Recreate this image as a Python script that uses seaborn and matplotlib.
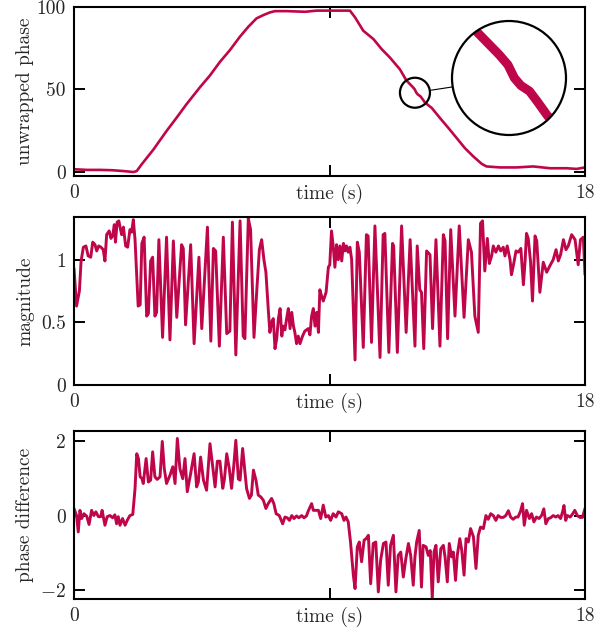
import matplotlib
matplotlib.use('Agg')
import matplotlib.pyplot as plt
import seaborn as sns
from matplotlib.patches import Circle, Ellipse, ConnectionPatch

# data (time in s)
phase_t = [0, 0.45, 0.92, 1.35, 1.74, 2.09, 2.21, 2.38, 2.80, 3.26, 3.62, 3.97, 4.44, 4.79,
           5.14, 5.49, 5.84, 6.14, 6.43, 6.67, 6.90, 7.08, 7.49, 8.14, 8.55, 9.14, 9.72, 9.90,
           10.19, 10.55, 10.84, 11.13, 11.48, 11.71, 11.92, 12.00, 12.06, 12.12, 12.20, 12.27,
           12.37, 12.60, 12.89, 13.19, 13.48, 13.77, 14.07, 14.36, 14.53, 15.01, 15.59, 16.18,
           16.77, 17.35, 17.71, 18.0]
phase_v = [1.6, 1.2, 1.2, 1.0, 0.5, -0.1, 0.5, 4.5, 13.6, 24.8, 33.0, 41.2, 51.4, 58.5,
           66.7, 73.8, 81.9, 88.0, 93.1, 95.1, 96.7, 97.5, 97.5, 97.1, 97.8, 97.8, 97.8, 93.7,
           85.6, 80.5, 74.4, 69.3, 62.2, 55.4, 51.7, 50.1, 48.0, 46.8, 45.9, 44.3,
           41.9, 38.8, 32.7, 26.6, 20.5, 14.4, 9.3, 4.9, 3.3, 2.7, 2.7, 3.3,
           2.2, 2.2, 1.8, 2.7]

mag_t = [0.00, 0.09, 0.19, 0.25, 0.33, 0.42, 0.50, 0.59, 0.66, 0.74, 0.80, 0.87, 0.95, 1.03,
         1.09, 1.15, 1.24, 1.30, 1.36, 1.42, 1.46, 1.52, 1.58, 1.64, 1.68, 1.74, 1.82, 1.89,
         1.97, 2.03, 2.09, 2.15, 2.26, 2.33, 2.39, 2.47, 2.56, 2.62, 2.70, 2.77, 2.85, 2.91,
         2.99, 3.12, 3.26, 3.38, 3.50, 3.62, 3.79, 3.85, 3.93, 4.11, 4.23, 4.40, 4.50, 4.70,
         4.82, 4.91, 4.99, 5.12, 5.26, 5.38, 5.49, 5.58, 5.70,
         5.85, 5.96, 6.02, 6.14, 6.22, 6.34, 6.44, 6.53, 6.61, 6.69, 6.76, 6.85, 6.90, 6.96,
         7.02, 7.08, 7.14, 7.20, 7.26, 7.32, 7.37, 7.43, 7.49, 7.55, 7.61, 7.67, 7.73, 7.78,
         7.84, 7.90, 7.96, 8.05, 8.13, 8.25, 8.31, 8.37, 8.43, 8.49, 8.55, 8.61, 8.66, 8.72,
         8.78, 8.88, 8.96, 9.01, 9.07, 9.13, 9.19, 9.25, 9.31, 9.37, 9.43, 9.49, 9.55, 9.60,
         9.66, 9.72, 9.78, 9.90, 9.98, 10.05, 10.19, 10.30, 10.36, 10.48, 10.60, 10.78, 10.89,
         10.95, 11.09, 11.22, 11.26, 11.39, 11.54, 11.70,
         11.84, 12.01, 12.09, 12.18, 12.24, 12.32, 12.42, 12.54, 12.63, 12.75, 12.89, 13.01,
         13.07, 13.16, 13.27, 13.42, 13.57, 13.74, 13.89, 14.00, 14.12, 14.24, 14.32, 14.39,
         14.47, 14.56, 14.63, 14.71, 14.77, 14.86, 14.95, 15.03, 15.12, 15.18, 15.26, 15.36,
         15.41, 15.49, 15.57, 15.65, 15.74, 15.83, 15.89, 15.94, 16.00, 16.08, 16.15, 16.24,
         16.30, 16.41, 16.53, 16.65, 16.76, 16.88, 16.98, 17.06, 17.14, 17.24, 17.33, 17.41,
         17.53, 17.65, 17.76, 17.84, 17.94, 18.00]
mag_v = [0.93, 0.63, 0.75, 0.99, 1.10, 1.11, 1.03, 1.02, 1.14, 1.12, 1.07, 1.11, 1.10, 1.08,
         0.99, 1.20, 1.23, 1.17, 1.19, 1.28, 1.14, 1.30, 1.31, 1.24, 1.20, 1.26, 1.11, 1.10,
         1.24, 1.22, 1.32, 1.16, 0.63, 0.64, 1.13, 1.18, 0.55, 0.57, 0.99, 1.02, 0.55, 0.58,
         1.16, 0.38, 1.18, 0.36, 1.15, 0.54, 1.12, 1.09, 0.48, 1.12, 0.33, 1.02, 0.45, 1.26,
         0.35, 1.09, 1.07, 0.31, 1.18, 0.41, 0.43, 1.30, 0.24,
         1.31, 0.39, 0.37, 1.33, 1.24, 0.38, 0.76, 1.08, 1.16, 1.00, 0.90, 0.58, 0.42, 0.50,
         0.53, 0.29, 0.37, 0.53, 0.61, 0.39, 0.47, 0.44, 0.53, 0.61, 0.45, 0.58, 0.47, 0.42,
         0.33, 0.39, 0.33, 0.39, 0.43, 0.45, 0.40, 0.55, 0.61, 0.47, 0.58, 0.42, 0.76, 0.71,
         0.67, 0.74, 0.94, 0.96, 1.23, 1.11, 0.94, 1.12, 1.00, 1.11, 0.99, 1.13, 1.07, 1.11,
         1.06, 1.10, 1.00, 0.20, 1.14, 1.06, 0.30, 1.20, 1.19, 0.34, 1.27, 0.22, 1.20,
         1.21, 0.26, 1.13, 1.11, 0.26, 1.27, 0.42,
         1.16, 0.31, 1.11, 0.76, 0.74, 0.29, 1.07, 1.04, 0.45, 1.16, 0.31, 1.20,
         1.15, 0.37, 1.24, 0.55, 1.27, 0.54, 1.16, 1.06, 0.55, 0.42, 1.29, 1.31,
         0.91, 1.17, 0.97, 1.03, 1.11, 1.06, 1.11, 1.07, 1.10, 1.03, 1.11, 1.00,
         0.88, 0.97, 1.07, 1.06, 1.09, 0.80, 0.99, 1.21, 1.17, 0.99, 0.67, 1.19,
         1.15, 0.74, 0.98, 0.90, 0.95, 1.00, 1.08, 0.99, 1.04, 1.16, 1.08, 1.11,
         1.20, 1.16, 0.96, 1.16, 1.18, 0.88]

diff_t = [0.00, 0.09, 0.15, 0.21, 0.27, 0.35, 0.45, 0.53, 0.62, 0.70, 0.77, 0.86, 0.94, 0.99,
          1.09, 1.17, 1.27, 1.36, 1.44, 1.50, 1.56, 1.62, 1.71, 1.80, 1.88, 1.97, 2.07, 2.15,
          2.21, 2.27, 2.33, 2.39, 2.44, 2.54, 2.62, 2.70, 2.77, 2.85, 2.93, 3.03, 3.11, 3.18,
          3.26, 3.38, 3.48, 3.56, 3.64, 3.73, 3.83, 3.91, 3.99, 4.11, 4.23, 4.32, 4.38, 4.46,
          4.56, 4.67, 4.79, 4.88, 4.97, 5.05, 5.14, 5.24, 5.30, 5.38, 5.47, 5.55, 5.63, 5.70,
          5.79, 5.85, 5.94, 6.02, 6.08, 6.18, 6.25, 6.32, 6.41, 6.49, 6.58, 6.67, 6.76, 6.84,
          6.96, 7.04, 7.12, 7.23, 7.35, 7.43, 7.51, 7.59, 7.67, 7.75, 7.84, 7.92, 8.02, 8.10,
          8.19, 8.25, 8.37, 8.43, 8.52, 8.61, 8.69, 8.78, 8.87, 8.96, 9.04, 9.13, 9.23, 9.31,
          9.43, 9.51, 9.58, 9.66, 9.74, 9.84, 9.90, 9.98, 10.05, 10.13, 10.22, 10.29, 10.37,
          10.45, 10.54, 10.63, 10.72, 10.80, 10.90, 10.99, 11.07, 11.15, 11.25, 11.34, 11.42,
          11.51, 11.60, 11.69, 11.78, 11.86, 11.95, 12.01, 12.07, 12.16, 12.24, 12.30, 12.40,
          12.48, 12.55, 12.62, 12.68, 12.75, 12.83, 12.92, 13.01, 13.07, 13.15, 13.22, 13.30,
          13.36, 13.44, 13.50, 13.59, 13.66, 13.74, 13.81, 13.89, 13.97, 14.07, 14.16, 14.24,
          14.32, 14.42, 14.51, 14.59, 14.68, 14.77, 14.86, 14.94, 15.03, 15.12, 15.21, 15.30,
          15.38, 15.47, 15.56, 15.64, 15.73, 15.80, 15.86, 15.94, 16.04, 16.12, 16.20, 16.29,
          16.38, 16.47, 16.55, 16.62, 16.71, 16.79, 16.88, 16.97, 17.05, 17.14, 17.21, 17.26,
          17.32, 17.38, 17.48, 17.57, 17.64, 17.73, 17.82, 17.91, 18.00]
diff_v = [0.19, 0.00, -0.44, 0.14, -0.08, 0.05, -0.02, -0.24, 0.14, 0.00, 0.10, -0.03, -0.03, 0.14,
          -0.26, -0.03, 0.00, -0.06, 0.02, -0.22, -0.03, -0.26, -0.08, -0.26, -0.12, 0.00, 0.03, 0.72,
          1.66, 1.53, 1.04, 1.00, 0.86, 1.53, 0.90, 0.95, 1.71, 1.04, 0.97, 1.04, 1.99, 1.26,
          0.86, 1.08, 1.31, 0.86, 2.07, 1.26, 0.99, 1.53, 0.64, 1.13, 1.66, 0.77, 0.90, 1.57,
          0.95, 0.68, 1.93, 1.35, 0.77, 1.46, 1.46, 0.73, 0.98, 1.66, 1.26, 0.73, 1.35, 2.02,
          0.98, 0.95, 1.80, 1.17, 0.72, 0.46, 0.55, 1.22, 0.95, 0.55, 0.50, 0.41, 0.19, 0.32,
          0.46, 0.32, 0.05, 0.00, -0.22, -0.04, -0.06, -0.13, 0.00, -0.08, -0.01, -0.06, 0.00, -0.06,
          -0.01, 0.12, 0.32, 0.14, 0.14, 0.14, -0.08, 0.28, -0.04, 0.00, -0.13, 0.05, -0.04, 0.10,
          0.05, -0.13, -0.04, -0.17, -0.71, -1.60, -1.96, -0.84, -0.71, -1.24, -0.66, -0.62, -0.53,
          -1.83, -0.75, -0.71, -2.05, -1.20, -0.75, -0.71, -1.87, -0.80, -0.53, -2.05, -1.07,
          -0.98, -1.65, -1.15, -0.75, -1.07, -1.87, -1.11, -0.71, -0.40, -1.92, -0.80, -0.84,
          -1.07, -0.94, -2.23, -0.98, -0.80, -1.78, -0.89, -0.80, -1.11, -1.78, -0.75, -1.11,
          -0.98, -1.74, -1.07, -0.62, -0.94, -1.60, -0.62, -0.71, -0.35, -0.57, -1.42, -0.53,
          -0.31, -0.35, 0.00, -0.10, 0.05, 0.00, -0.13, 0.00, -0.05, -0.05, 0.00, 0.13,
          -0.04, -0.10, -0.04, -0.04, 0.12, 0.32, -0.26, 0.14, -0.08, 0.05, -0.17, -0.04,
          -0.08, 0.00, 0.18, -0.22, -0.08, -0.06, 0.00, -0.04, 0.00, -0.08, 0.10, 0.27,
          -0.13, 0.00, -0.04, 0.05, 0.14, 0.00, -0.05, -0.05, 0.19]

x_ticks = [0, 9, 18]
x_ticklabels = ['0', 'time (s)', '18']
phase_ticks, phase_ticklabels = [0, 50, 100], ['0', '50', '100']
mag_ticks, mag_ticklabels = [0, 0.5, 1], ['0', '0.5', '1']
diff_ticks, diff_ticklabels = [-2, 0, 2], ['$-2$', '0', '2']

# zoomed spot on the unwrapped phase curve
zoom_center = (12.01, 48.0)

sns.set_style('ticks')
plt.rcParams['font.family'] = ['cmr10', 'DejaVu Serif']
plt.rcParams['mathtext.fontset'] = 'cm'
plt.rcParams['axes.unicode_minus'] = False
plt.rcParams['font.size'] = 14

red = '#C0064A'

fig = plt.figure(figsize=(6.1, 6.32), dpi=100)
W, H = 610, 632
def px_axes(x0, y0, x1, y1):
    return fig.add_axes([x0 / W, 1 - y1 / H, (x1 - x0) / W, (y1 - y0) / H])

ax1 = px_axes(74, 7, 585, 176)
ax2 = px_axes(74, 217, 585, 385)
ax3 = px_axes(74, 431, 585, 599)

sns.lineplot(x=phase_t, y=phase_v, ax=ax1, color=red, linewidth=1.9)
sns.lineplot(x=mag_t, y=mag_v, ax=ax2, color=red, linewidth=2.1)
sns.lineplot(x=diff_t, y=diff_v, ax=ax3, color=red, linewidth=2.1)

panels = [(ax1, (-2.5, 100), phase_ticks, phase_ticklabels, 'unwrapped phase'),
          (ax2, (0, 1.341), mag_ticks, mag_ticklabels, 'magnitude'),
          (ax3, (-2.24, 2.27), diff_ticks, diff_ticklabels, 'phase difference')]
for ax, ylim, yt, ytl, lab in panels:
    ax.set_xlim(0, 18)
    ax.set_ylim(*ylim)
    ax.set_xticks(x_ticks, x_ticklabels)
    ax.set_yticks(yt, ytl)
    ax.set_xlabel('')
    ax.set_ylabel(lab)
    ax.yaxis.set_label_coords(-0.078, 0.5)
    ax.tick_params(direction='in', length=8, width=1.4, top=True, right=True,
                   labelsize=14, pad=6, color='black')
    for s in ax.spines.values():
        s.set_linewidth(1.5)
        s.set_color('black')

# small circle on the curve (radius 15 px)
rx = 15 * 18 / 511
ry = 15 * 102.5 / 169
ax1.add_patch(Ellipse(zoom_center, 2 * rx, 2 * ry, fill=False, ec='black', lw=1.6, zorder=5))

# magnified view
axz = px_axes(452, 21, 566, 135)
sns.lineplot(x=phase_t, y=phase_v, ax=axz, color=red, linewidth=6.5)
axz.set_xlim(zoom_center[0] - rx, zoom_center[0] + rx)
axz.set_ylim(zoom_center[1] - ry, zoom_center[1] + ry)
axz.axis('off')
bg = Circle((0.5, 0.5), 0.5, transform=axz.transAxes, fc='white', ec='none', zorder=0)
axz.add_patch(bg)
clip = Circle((0.5, 0.5), 0.5, transform=axz.transAxes, fc='none', ec='none')
axz.add_patch(clip)
for ln in axz.lines:
    ln.set_clip_path(clip)
axz.add_patch(Circle((0.5, 0.5), 0.5, transform=axz.transAxes, fill=False, ec='black',
                     lw=1.6, zorder=5, clip_on=False))

con = ConnectionPatch(xyA=(zoom_center[0] + rx * 0.988, zoom_center[1] + ry * 0.156),
                      coordsA=ax1.transData, xyB=(0.006, 0.422), coordsB=axz.transAxes,
                      color='black', lw=0.8)
fig.add_artist(con)

fig.savefig('out.png', dpi=100)
